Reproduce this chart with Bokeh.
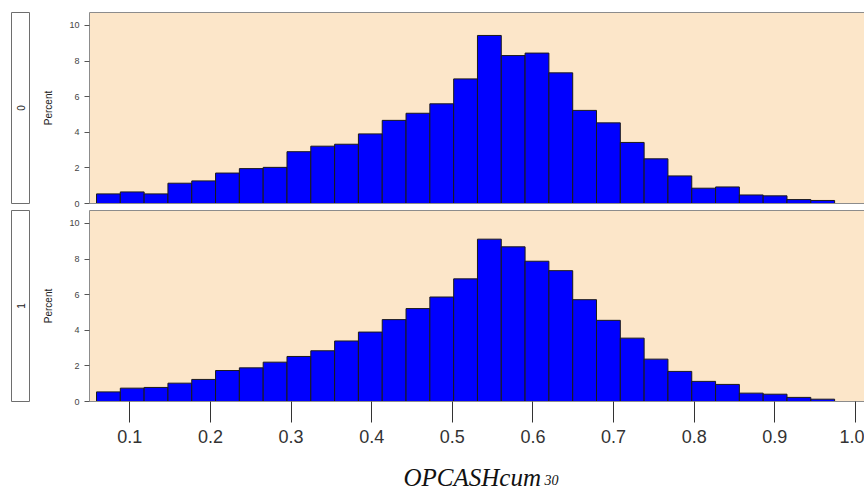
from math import pi
from bokeh.plotting import figure
from bokeh.models import Label, LinearAxis, FixedTicker, Range1d, NumeralTickFormatter
from bokeh.layouts import column, row
from bokeh.embed import file_html
from bokeh.resources import INLINE

# ---- data ----
group_labels = ["0", "1"]
bin_start = 0.0587
bin_width = 0.02953
pct_group0 = [0.54, 0.65, 0.54, 1.14, 1.27, 1.71, 1.96, 2.03, 2.91, 3.22,
              3.33, 3.91, 4.67, 5.07, 5.60, 7.00, 9.44, 8.31, 8.45, 7.34,
              5.23, 4.53, 3.43, 2.51, 1.55, 0.86, 0.93, 0.48, 0.43, 0.22, 0.17]
pct_group1 = [0.54, 0.75, 0.79, 1.03, 1.24, 1.74, 1.89, 2.21, 2.53, 2.85,
              3.40, 3.90, 4.60, 5.22, 5.87, 6.89, 9.12, 8.69, 7.88, 7.35,
              5.72, 4.56, 3.56, 2.38, 1.69, 1.13, 0.96, 0.47, 0.41, 0.23, 0.13]
x_ticks = [0.1, 0.2, 0.3, 0.4, 0.5, 0.6, 0.7, 0.8, 0.9, 1.0]
y_ticks = [0, 2, 4, 6, 8, 10]
x_title = "OPCASHcum"
x_title_sub = "30"
y_title = "Percent"

PANEL_BG = "#FCE6C9"
BORDER = "#8c8c8c"
BAR = "#0000FF"
FW, FH = 775, 191


def line_axis(loc_fig, where):
    ax = LinearAxis(ticker=FixedTicker(ticks=[]), major_tick_out=0, major_tick_in=0,
                    minor_tick_out=0, minor_tick_in=0, major_label_text_font_size="0px",
                    major_label_standoff=0, axis_line_color=BORDER, axis_line_width=1)
    loc_fig.add_layout(ax, where)


def make_strip(label, top, bottom):
    s = figure(frame_width=19, frame_height=FH, x_range=Range1d(0, 1), y_range=Range1d(0, 1),
               x_axis_location=None, y_axis_location=None, toolbar_location=None,
               output_backend="svg", min_border_left=11, min_border_right=0,
               min_border_top=top, min_border_bottom=bottom)
    s.outline_line_color = "#6e6e6e"
    s.background_fill_color = "white"
    s.border_fill_color = "white"
    s.grid.visible = False
    s.add_layout(Label(x=0.5, y=0.5, text=label, angle=pi / 2, text_align="center",
                       text_baseline="middle", text_font_size="10px",
                       text_font="Liberation Sans", text_color="#222222"))
    return s


def make_panel(vals, top, bottom, show_x):
    p = figure(frame_width=FW, frame_height=FH, x_range=Range1d(0.0500, 1.0112),
               y_range=Range1d(0, 10.73), toolbar_location=None, output_backend="svg",
               x_axis_location="below" if show_x else None, y_axis_location="left",
               min_border_left=59, min_border_right=0, min_border_top=top,
               min_border_bottom=bottom)
    p.outline_line_color = None
    p.background_fill_color = PANEL_BG
    p.border_fill_color = "white"
    p.grid.visible = False

    left = [bin_start + i * bin_width for i in range(len(vals))]
    right = [bin_start + (i + 1) * bin_width for i in range(len(vals))]
    p.quad(left=left, right=right, bottom=0, top=vals, fill_color=BAR,
           line_color="#1a1a1a", line_width=1)

    ya = p.yaxis[0]
    ya.ticker = FixedTicker(ticks=y_ticks)
    ya.major_tick_out = 5
    ya.major_tick_in = 0
    ya.minor_tick_out = 0
    ya.minor_tick_in = 0
    ya.major_tick_line_color = "#555555"
    ya.axis_line_color = BORDER
    ya.major_label_text_font = "Liberation Sans"
    ya.major_label_text_font_size = "9px"
    ya.major_label_text_color = "#444444"
    ya.major_label_standoff = 5
    ya.axis_label = y_title
    ya.axis_label_text_font = "Liberation Sans"
    ya.axis_label_text_font_size = "10px"
    ya.axis_label_text_font_style = "normal"
    ya.axis_label_text_color = "#222222"
    ya.axis_label_standoff = 12

    if show_x:
        xa = p.below[0]
        xa.ticker = FixedTicker(ticks=x_ticks)
        xa.formatter = NumeralTickFormatter(format="0.0")
        xa.major_tick_out = 21
        xa.major_tick_in = 0
        xa.minor_tick_out = 0
        xa.minor_tick_in = 0
        xa.major_tick_line_color = "#333333"
        xa.axis_line_color = BORDER
        xa.major_label_text_font = "Liberation Sans"
        xa.major_label_text_font_size = "18px"
        xa.major_label_text_color = "#333333"
        xa.major_label_standoff = 7
    else:
        line_axis(p, "below")
    line_axis(p, "above")
    return p


def make_title():
    t = figure(frame_width=864, frame_height=36, x_range=Range1d(0, 1), y_range=Range1d(0, 1),
               x_axis_location=None, y_axis_location=None, toolbar_location=None,
               output_backend="svg", min_border_left=0, min_border_right=0,
               min_border_top=0, min_border_bottom=0)
    t.outline_line_color = None
    t.background_fill_color = "white"
    t.border_fill_color = "white"
    t.grid.visible = False
    t.add_layout(Label(x=403, y=15, x_units="screen", y_units="screen", text=x_title,
                       text_font="Liberation Serif", text_font_style="italic",
                       text_font_size="25px", text_color="#111111",
                       text_baseline="alphabetic", text_align="left"))
    t.add_layout(Label(x=544, y=13, x_units="screen", y_units="screen", text=x_title_sub,
                       text_font="Liberation Serif", text_font_style="italic",
                       text_font_size="14px", text_color="#111111",
                       text_baseline="alphabetic", text_align="left"))
    return t


s0 = make_strip(group_labels[0], 12, 7)
p0 = make_panel(pct_group0, 12, 7, False)
s1 = make_strip(group_labels[1], 0, 55)
p1 = make_panel(pct_group1, 0, 55, True)
tt = make_title()

layout = column(row(s0, p0), row(s1, p1), tt)
open("out.html", "w").write(file_html(layout, INLINE))
